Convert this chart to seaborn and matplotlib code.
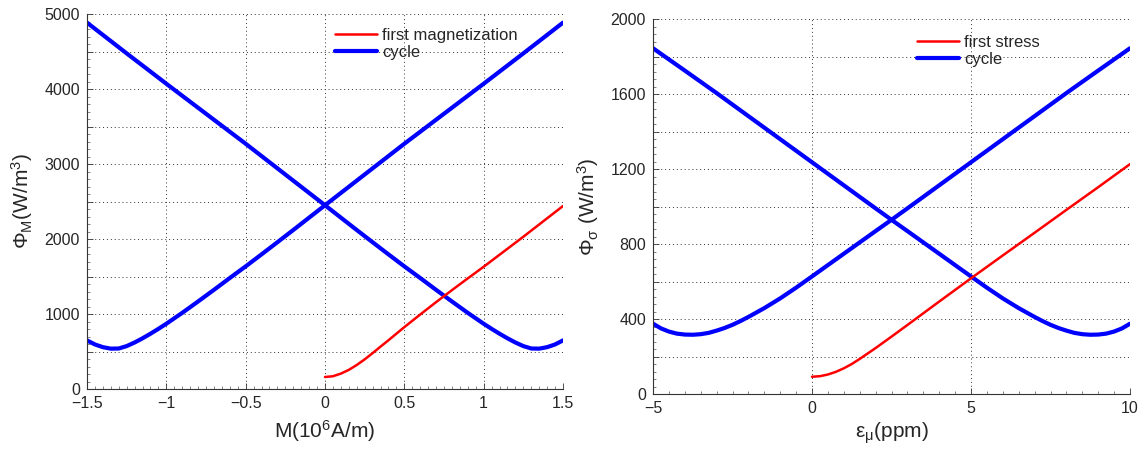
import matplotlib
matplotlib.use("Agg")
import matplotlib.pyplot as plt
import seaborn as sns
from matplotlib.lines import Line2D
from matplotlib.ticker import MultipleLocator, AutoMinorLocator, FuncFormatter

# left panel: magnetic free energy vs magnetization (10^6 A/m)
m_cycle_up = [-1.5, -1.45, -1.4, -1.35, -1.3, -1.25, -1.2, -1.15, -1.1, -1.05, -1.0,
              -0.9, -0.8, -0.7, -0.6, -0.5, -0.4, -0.3, -0.2, -0.1, 0.0,
              0.25, 0.5, 0.75, 1.0, 1.25, 1.5]
phi_m_cycle_up = [648, 594, 558, 538, 540, 572, 620, 676, 737, 802, 870,
                  1015, 1167, 1322, 1480, 1635, 1795, 1957, 2120, 2285, 2450,
                  2860, 3270, 3670, 4070, 4475, 4885]
m_cycle_down = [1.5, 1.45, 1.4, 1.35, 1.3, 1.25, 1.2, 1.15, 1.1, 1.05, 1.0,
                0.9, 0.8, 0.7, 0.6, 0.5, 0.4, 0.3, 0.2, 0.1, 0.0,
                -0.25, -0.5, -0.75, -1.0, -1.25, -1.5]
phi_m_cycle_down = [648, 594, 558, 538, 540, 572, 620, 676, 737, 802, 870,
                    1015, 1167, 1322, 1480, 1635, 1795, 1957, 2120, 2285, 2450,
                    2860, 3270, 3670, 4070, 4475, 4885]
m_first = [0.0, 0.05, 0.1, 0.15, 0.2, 0.25, 0.3, 0.35, 0.4, 0.5, 0.6, 0.7, 0.8, 0.9, 1.0, 1.25, 1.5]
phi_m_first = [160, 170, 205, 255, 320, 395, 478, 565, 650, 825, 993, 1158, 1318, 1475, 1630, 2030, 2440]

# right panel: elastic free energy vs strain (ppm)
eps_cycle_up = [-5, -4.75, -4.5, -4.25, -4, -3.75, -3.5, -3.25, -3, -2.75, -2.5, -2.25, -2,
                -1.5, -1, -0.5, 0, 1, 2, 2.5, 3, 4, 5, 6, 7, 8, 9, 10]
phi_s_cycle_up = [375, 350, 333, 322, 317, 316, 319, 326, 338, 352, 369, 389, 411,
                  458, 510, 567, 627, 748, 869, 929, 990, 1113, 1236, 1359, 1482, 1605, 1725, 1844]
eps_cycle_down = [10, 9.75, 9.5, 9.25, 9, 8.75, 8.5, 8.25, 8, 7.75, 7.5, 7.25, 7,
                  6.5, 6, 5.5, 5, 4, 3, 2.5, 2, 1, 0, -1, -2, -3, -4, -5]
phi_s_cycle_down = [375, 350, 333, 322, 317, 316, 319, 326, 338, 352, 369, 389, 411,
                    458, 510, 567, 627, 748, 869, 929, 990, 1113, 1236, 1359, 1482, 1605, 1725, 1844]
eps_first = [0, 0.25, 0.5, 0.75, 1, 1.25, 1.5, 2, 2.5, 3, 4, 5, 6, 7, 8, 9, 10]
phi_s_first = [92, 95, 104, 118, 137, 160, 187, 245, 306, 368, 493, 617, 739, 860, 982, 1103, 1226]

sns.set_style("white")
plt.rcParams["font.family"] = ["Liberation Sans", "DejaVu Sans"]
plt.rcParams["mathtext.fontset"] = "custom"
plt.rcParams["mathtext.rm"] = "Liberation Sans"
plt.rcParams["mathtext.it"] = "Liberation Sans:italic"

RED = "#ff0000"
BLUE = "#0000ff"

fig = plt.figure(figsize=(11.44, 4.5), dpi=100)
axL = fig.add_axes([87 / 1144, 1 - 389 / 450, 476 / 1144, 375 / 450])
axR = fig.add_axes([653 / 1144, 1 - 394 / 450, 477 / 1144, 375 / 450])


def draw(ax, x_first, y_first, x_up, y_up, x_down, y_down):
    sns.lineplot(x=x_up, y=y_up, ax=ax, color=BLUE, linewidth=3.0, sort=False, estimator=None)
    sns.lineplot(x=x_down, y=y_down, ax=ax, color=BLUE, linewidth=3.0, sort=False, estimator=None)
    sns.lineplot(x=x_first, y=y_first, ax=ax, color=RED, linewidth=1.8, sort=False, estimator=None)


draw(axL, m_first, phi_m_first, m_cycle_up, phi_m_cycle_up, m_cycle_down, phi_m_cycle_down)
draw(axR, eps_first, phi_s_first, eps_cycle_up, phi_s_cycle_up, eps_cycle_down, phi_s_cycle_down)


def style(ax, xlim, ylim, xstep, ystep, ylabstep):
    ax.set_xlim(*xlim)
    ax.set_ylim(*ylim)
    ax.xaxis.set_major_locator(MultipleLocator(xstep))
    ax.yaxis.set_major_locator(MultipleLocator(ystep))
    ax.xaxis.set_minor_locator(AutoMinorLocator(10))
    ax.yaxis.set_minor_locator(AutoMinorLocator(5))
    ax.xaxis.set_major_formatter(FuncFormatter(lambda v, _: f"{v:g}".replace("-", "\u2212")))
    ax.yaxis.set_major_formatter(FuncFormatter(
        lambda v, _: f"{v:.0f}" if abs(v % ylabstep) < 1e-6 else ""))
    ax.grid(True, which="major", linestyle=(0, (1, 3)), linewidth=0.7, color="#333333")
    for s in ["top", "right"]:
        ax.spines[s].set_visible(False)
    for s in ["left", "bottom"]:
        ax.spines[s].set_color("#333333")
        ax.spines[s].set_linewidth(0.8)
    ax.tick_params(which="major", direction="in", length=4, width=0.6, color="#333333",
                   labelsize=11.5, pad=5, left=True, bottom=True)
    ax.tick_params(which="minor", direction="in", length=2, width=0.5, color="#555555",
                   left=True, bottom=True)


style(axL, (-1.5, 1.5), (0, 5000), 0.5, 500, 1000)
style(axR, (-5, 10), (0, 2000), 5, 200, 400)

axL.set_xlabel("M(10$^6$A/m)", fontsize=15, labelpad=5)
axL.set_ylabel("\u03a6$_{\\mathrm{M}}$(W/m$^3$)", fontsize=15, labelpad=7)
axR.set_xlabel("\u03b5$_{\\mathrm{\u03bc}}$(ppm)", fontsize=15, labelpad=3)
axR.set_ylabel("\u03a6$_{\\mathrm{\u03c3}}$ (W/m$^3$)", fontsize=15, labelpad=7)

handles = [Line2D([], [], color=RED, linewidth=1.8), Line2D([], [], color=BLUE, linewidth=3.0)]
axL.legend(handles, ["first magnetization", "cycle"], loc="upper left",
           bbox_to_anchor=(0.522, 0.962), frameon=False, fontsize=12,
           handlelength=2.5, handletextpad=0.3, borderaxespad=0, borderpad=0,
           labelspacing=0.12)
axR.legend(handles, ["first stress", "cycle"], loc="upper left",
           bbox_to_anchor=(0.554, 0.958), frameon=False, fontsize=12,
           handlelength=2.5, handletextpad=0.3, borderaxespad=0, borderpad=0,
           labelspacing=0.12)

fig.savefig("out.png", dpi=100)
